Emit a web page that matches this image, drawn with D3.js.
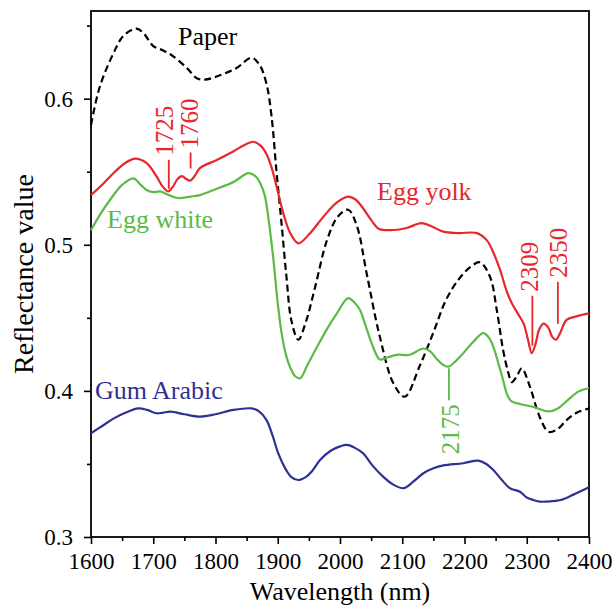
<!DOCTYPE html>
<html>
<head>
<meta charset="utf-8">
<script src="https://cdn.jsdelivr.net/npm/d3@7"></script>
<style>
  body { margin: 0; background: #fff; }
  .axis line, .axis path { stroke: #000; stroke-width: 1.6; }
</style>
</head>
<body>
<div id="chart"></div>
<script>
// wavelength (nm) / reflectance pairs
const paper = [
  [1600,0.582],[1614,0.608],[1636,0.631],[1652,0.643],[1673,0.648],[1684,0.645],[1700,0.636],
  [1716,0.633],[1732,0.629],[1754,0.621],[1770,0.614],[1783,0.613],[1807,0.616],[1834,0.621],
  [1858,0.628],[1871,0.623],[1882,0.610],[1890,0.588],[1898,0.550],[1906,0.515],[1914,0.478],
  [1922,0.448],[1933,0.435],[1945,0.447],[1960,0.471],[1979,0.503],[1996,0.519],[2013,0.524],
  [2027,0.513],[2043,0.480],[2064,0.437],[2086,0.405],[2104,0.396],[2128,0.417],[2150,0.440],
  [2170,0.462],[2190,0.476],[2210,0.485],[2225,0.488],[2241,0.478],[2252,0.455],[2262,0.428],
  [2270,0.413],[2276,0.406],[2284,0.410],[2292,0.4155],[2305,0.403],[2321,0.382],[2335,0.372],
  [2350,0.374],[2364,0.380],[2380,0.385],[2400,0.388]
];

const eggYolk = [
  [1600,0.534],[1620,0.542],[1636,0.549],[1655,0.556],[1671,0.559],[1689,0.556],[1705,0.547],
  [1715,0.540],[1724,0.5365],[1732,0.540],[1739,0.545],[1746,0.547],[1753,0.545],[1760,0.544],
  [1768,0.548],[1775,0.5525],[1802,0.558],[1829,0.564],[1845,0.568],[1861,0.5705],[1872,0.568],
  [1882,0.562],[1890,0.553],[1898,0.540],[1910,0.520],[1920,0.508],[1933,0.501],[1950,0.507],
  [1973,0.519],[1995,0.529],[2013,0.533],[2025,0.531],[2037,0.525],[2050,0.517],[2062,0.511],
  [2080,0.510],[2107,0.5115],[2131,0.5148],[2150,0.512],[2166,0.509],[2190,0.508],[2220,0.508],
  [2236,0.503],[2247,0.494],[2257,0.483],[2268,0.468],[2276,0.460],[2287,0.452],[2295,0.446],
  [2302,0.435],[2308,0.4258],[2314,0.432],[2320,0.442],[2327,0.446],[2335,0.443],[2341,0.437],
  [2347,0.435],[2353,0.439],[2364,0.4486],[2380,0.451],[2400,0.453]
];

const eggWhite = [
  [1600,0.510],[1615,0.521],[1631,0.531],[1650,0.541],[1668,0.5455],[1680,0.541],[1689,0.5375],
  [1700,0.536],[1711,0.5365],[1725,0.534],[1740,0.532],[1760,0.533],[1775,0.534],[1800,0.538],
  [1829,0.543],[1853,0.549],[1864,0.547],[1872,0.542],[1879,0.534],[1886,0.515],[1893,0.490],
  [1900,0.460],[1906,0.440],[1913,0.425],[1920,0.416],[1928,0.410],[1936,0.4087],[1948,0.418],
  [1963,0.430],[1980,0.443],[1995,0.453],[2013,0.4635],[2024,0.460],[2032,0.4555],[2040,0.446],
  [2048,0.436],[2056,0.427],[2064,0.4215],[2077,0.423],[2091,0.4247],[2112,0.4247],[2134,0.429],
  [2145,0.427],[2155,0.422],[2165,0.418],[2174,0.4166],[2185,0.420],[2198,0.4258],[2215,0.434],
  [2230,0.4395],[2240,0.436],[2248,0.428],[2255,0.418],[2262,0.4075],[2268,0.398],[2275,0.393],
  [2289,0.391],[2311,0.389],[2335,0.386],[2350,0.388],[2364,0.393],[2383,0.3995],[2400,0.402]
];

const gumArabic = [
  [1600,0.371],[1618,0.376],[1636,0.381],[1655,0.385],[1676,0.388],[1690,0.387],[1705,0.3847],
  [1715,0.385],[1727,0.3858],[1750,0.384],[1775,0.3824],[1800,0.384],[1829,0.387],[1858,0.388],
  [1870,0.386],[1882,0.380],[1892,0.369],[1901,0.357],[1912,0.347],[1922,0.341],[1933,0.339],
  [1945,0.341],[1955,0.345],[1968,0.3527],[1985,0.359],[2000,0.362],[2011,0.363],[2024,0.361],
  [2037,0.3573],[2052,0.349],[2070,0.341],[2085,0.336],[2102,0.3334],[2118,0.338],[2134,0.3436],
  [2150,0.347],[2166,0.349],[2198,0.3505],[2222,0.3523],[2235,0.350],[2246,0.346],[2260,0.339],
  [2273,0.3334],[2289,0.331],[2300,0.327],[2311,0.3253],[2321,0.3242],[2340,0.3245],[2354,0.3253],
  [2375,0.329],[2400,0.334]
];

const seriesNames = ['Paper', 'Egg yolk', 'Egg white', 'Gum Arabic'];
const seriesData = [paper, eggYolk, eggWhite, gumArabic];

// marked absorption bands: which series, wavelength
const peakSeries = ['Egg yolk', 'Egg yolk', 'Egg yolk', 'Egg yolk', 'Egg white'];
const peakWavelengths = [1725, 1760, 2309, 2350, 2175];

const xTicks = [1600, 1700, 1800, 1900, 2000, 2100, 2200, 2300, 2400];
const xMinorTicks = [1650, 1750, 1850, 1950, 2050, 2150, 2250, 2350];
const yTicks = [0.3, 0.4, 0.5, 0.6];
const yMinorTicks = [0.35, 0.45, 0.55, 0.65];
const xDomain = [1600, 2400];
const yDomain = [0.3, 0.66];

// styling
const FONT = '"Liberation Serif", "Times New Roman", serif';
const colors = {'Paper': '#000000', 'Egg yolk': '#e8262b', 'Egg white': '#5cba47', 'Gum Arabic': '#2e3192'};
const labelPos = {'Paper': [178, 45], 'Egg yolk': [377, 200], 'Egg white': [107, 228], 'Gum Arabic': [95, 399]};
// gap from curve, line length, direction (-1 = above curve), baseline shift of rotated label
const peakLayout = [
  {gap: 2, len: 29, dir: -1, dx: 4},
  {gap: 12, len: 16, dir: -1, dx: 7},
  {gap: 6, len: 50, dir: -1, dx: 6},
  {gap: 13, len: 42, dir: -1, dx: 9},
  {gap: 2, len: 32, dir: 1, dx: 10}
];

const width = 616, height = 608;
const margin = {top: 11, right: 27, bottom: 71, left: 91};
const innerW = width - margin.left - margin.right;
const innerH = height - margin.top - margin.bottom;

const svg = d3.select('#chart').append('svg')
    .attr('width', width)
    .attr('height', height);

const chart = svg.append('g')
    .attr('transform', `translate(${margin.left},${margin.top})`);

const xScale = d3.scaleLinear().domain(xDomain).range([0, innerW]);
const yScale = d3.scaleLinear().domain(yDomain).range([innerH, 0]);

// Axes: labelled major ticks and short minor ticks, both outward
chart.append('g')
    .attr('class', 'axis x-axis')
    .attr('transform', `translate(0,${innerH})`)
    .call(d3.axisBottom(xScale).tickValues(xTicks).tickSize(7).tickSizeOuter(0).tickPadding(9).tickFormat(d3.format('d')))
    .call(g => g.select('.domain').remove());

chart.append('g')
    .attr('class', 'axis x-axis-minor')
    .attr('transform', `translate(0,${innerH})`)
    .call(d3.axisBottom(xScale).tickValues(xMinorTicks).tickSize(4).tickFormat(''))
    .call(g => g.select('.domain').remove());

chart.append('g')
    .attr('class', 'axis y-axis')
    .call(d3.axisLeft(yScale).tickValues(yTicks).tickSize(7).tickSizeOuter(0).tickPadding(11).tickFormat(d3.format('.1f')))
    .call(g => g.select('.domain').remove());

chart.append('g')
    .attr('class', 'axis y-axis-minor')
    .call(d3.axisLeft(yScale).tickValues(yMinorTicks).tickSize(4).tickFormat(''))
    .call(g => g.select('.domain').remove());

chart.selectAll('.axis text')
    .style('font-size', '23px')
    .style('fill', '#000');

// frame around plot area
chart.append('rect')
    .attr('width', innerW)
    .attr('height', innerH)
    .attr('fill', 'none')
    .attr('stroke', '#000')
    .attr('stroke-width', 1.8);

const line = d3.line()
    .x(d => xScale(d[0]))
    .y(d => yScale(d[1]))
    .curve(d3.curveCatmullRom.alpha(0.5));

chart.selectAll('.spectrum')
    .data(seriesNames)
  .join('path')
    .attr('class', 'spectrum')
    .attr('d', (name, i) => line(seriesData[i]))
    .attr('fill', 'none')
    .attr('stroke', name => colors[name])
    .attr('stroke-width', 2.2)
    .attr('stroke-dasharray', name => name === 'Paper' ? '7,4' : null);

// series labels (absolute page positions)
svg.selectAll('.series-label')
    .data(seriesNames)
  .join('text')
    .attr('class', 'series-label')
    .attr('x', name => labelPos[name][0])
    .attr('y', name => labelPos[name][1])
    .attr('fill', name => colors[name])
    .style('font-size', '26px')
    .text(name => name);

// value of a series at a given wavelength (linear between read points)
function valueAt(data, wl) {
  const i = d3.bisector(d => d[0]).left(data, wl);
  if (i <= 0) return data[0][1];
  const a = data[i - 1], b = data[i];
  return a[1] + (b[1] - a[1]) * (wl - a[0]) / (b[0] - a[0]);
}

// peak markers: short line then rotated wavelength label
peakWavelengths.forEach((wl, i) => {
  const name = peakSeries[i];
  const lay = peakLayout[i];
  const px = xScale(wl);
  const py = yScale(valueAt(seriesData[seriesNames.indexOf(name)], wl));
  const y0 = py + lay.dir * lay.gap;
  const y1 = y0 + lay.dir * lay.len;
  chart.append('line')
      .attr('x1', px).attr('x2', px)
      .attr('y1', y0).attr('y2', y1)
      .attr('stroke', colors[name])
      .attr('stroke-width', 1.8);
  chart.append('text')
      .attr('class', 'peak-label')
      .attr('transform', `translate(${px + lay.dx},${y1 + lay.dir * 4}) rotate(-90)`)
      .attr('text-anchor', lay.dir < 0 ? 'start' : 'end')
      .attr('fill', colors[name])
      .style('font-size', '25px')
      .text(wl);
});

// axis titles
svg.append('text')
    .attr('class', 'axis-title')
    .attr('x', margin.left + innerW / 2)
    .attr('y', 600)
    .attr('text-anchor', 'middle')
    .style('font-size', '26px')
    .text('Wavelength (nm)');

svg.append('text')
    .attr('class', 'axis-title')
    .attr('transform', `translate(33,${margin.top + innerH / 2}) rotate(-90)`)
    .attr('text-anchor', 'middle')
    .style('font-size', '28px')
    .text('Reflectance value');

// one face for every text, set inline so it beats the axis defaults
svg.selectAll('text').style('font-family', FONT);
</script>
</body>
</html>
